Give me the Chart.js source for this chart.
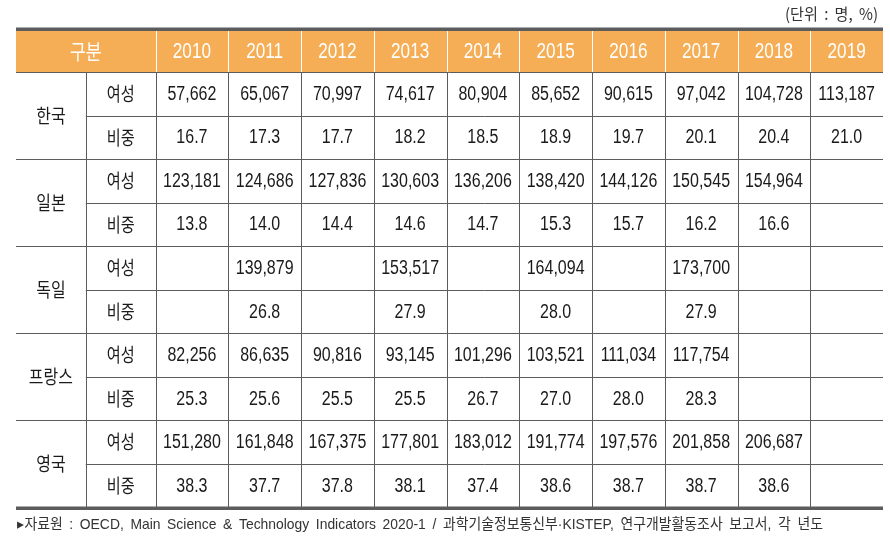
<!DOCTYPE html>
<html><head><meta charset="utf-8">
<script src="https://cdn.jsdelivr.net/npm/chart.js@4/dist/chart.umd.min.js"></script>
<style>html,body{margin:0;padding:0;background:#fff;}canvas{display:block;}</style>
</head><body>
<canvas id="c" width="890" height="546"></canvas>
<script>
const years = [2010, 2011, 2012, 2013, 2014, 2015, 2016, 2017, 2018, 2019];
const countries = ['한국', '일본', '독일', '프랑스', '영국'];
const rowLabels = ['여성', '비중'];
const headerLabel = '구분';
const korWomen = [57662, 65067, 70997, 74617, 80904, 85652, 90615, 97042, 104728, 113187];
const korShare = [16.7, 17.3, 17.7, 18.2, 18.5, 18.9, 19.7, 20.1, 20.4, 21.0];
const jpnWomen = [123181, 124686, 127836, 130603, 136206, 138420, 144126, 150545, 154964, null];
const jpnShare = [13.8, 14.0, 14.4, 14.6, 14.7, 15.3, 15.7, 16.2, 16.6, null];
const deuWomen = [null, 139879, null, 153517, null, 164094, null, 173700, null, null];
const deuShare = [null, 26.8, null, 27.9, null, 28.0, null, 27.9, null, null];
const fraWomen = [82256, 86635, 90816, 93145, 101296, 103521, 111034, 117754, null, null];
const fraShare = [25.3, 25.6, 25.5, 25.5, 26.7, 27.0, 28.0, 28.3, null, null];
const gbrWomen = [151280, 161848, 167375, 177801, 183012, 191774, 197576, 201858, 206687, null];
const gbrShare = [38.3, 37.7, 37.8, 38.1, 37.4, 38.6, 38.7, 38.7, 38.6, null];
const unitText = '(단위 : 명, %)';
const sourceText = '▸자료원 : OECD, Main Science & Technology Indicators 2020-1 / 과학기술정보통신부·KISTEP, 연구개발활동조사 보고서, 각 년도';

const seriesByCountry = [
  [korWomen, korShare], [jpnWomen, jpnShare], [deuWomen, deuShare],
  [fraWomen, fraShare], [gbrWomen, gbrShare]
];

const LABEL_COL = 1.918;   // width of the two label columns in year-column units
const HEADER_ROW = 0.942;  // header row height in body-row units

const datasets = [];
seriesByCountry.forEach((pair, ci) => {
  pair.forEach((vals, ri) => {
    const row = ci * 2 + ri;
    datasets.push({
      label: countries[ci] + ' ' + rowLabels[ri],
      isShare: ri === 1,
      data: vals.map((v, i) => v == null ? null : { x: i + 0.5, y: row + 0.5, v: v })
                .filter(p => p !== null),
      pointRadius: 0, pointHoverRadius: 0, showLine: false
    });
  });
});

function fmt(v, share) {
  return share ? v.toFixed(1) : v.toLocaleString('en-US');
}

function drawScaled(ctx, text, x, y, font, sx, color) {
  ctx.save();
  ctx.font = font;
  ctx.fillStyle = color;
  ctx.textAlign = 'center';
  ctx.textBaseline = 'middle';
  ctx.translate(x, y);
  ctx.scale(sx, 1);
  ctx.fillText(text, 0, 0);
  ctx.restore();
}

const NUM_FONT = "20px 'Liberation Sans', Arial, sans-serif";
const KO_FONT = "19px 'Noto Sans CJK KR', sans-serif";
const HEAD_FONT = "22px 'Liberation Sans', Arial, sans-serif";
const TEXT = '#1a1a1a';
const LINE = '#5c5c5c';
const ORANGE = '#F5AE56';

const tablePlugin = {
  id: 'tablePlugin',
  beforeDatasetsDraw(chart) {
    const { ctx, scales: { x, y } } = chart;
    const left = x.getPixelForValue(-LABEL_COL), right = x.getPixelForValue(10);
    const midCol = x.getPixelForValue(-LABEL_COL / 2);
    const top = y.getPixelForValue(-HEADER_ROW), hb = y.getPixelForValue(0);
    const bottom = y.getPixelForValue(countries.length * 2);
    ctx.save();
    ctx.fillStyle = ORANGE;
    ctx.fillRect(left, top, right - left, hb - top);
    ctx.strokeStyle = '#ffffff';
    ctx.lineWidth = 1;
    for (let i = 0; i < years.length; i++) {
      const px = Math.round(x.getPixelForValue(i)) + 0.5;
      ctx.beginPath(); ctx.moveTo(px, top); ctx.lineTo(px, hb); ctx.stroke();
    }
    ctx.strokeStyle = LINE;
    for (let r = 0; r < countries.length * 2; r++) {
      const py = Math.round(y.getPixelForValue(r)) + 0.5;
      const sx = (r % 2 === 0) ? left : midCol;
      ctx.beginPath(); ctx.moveTo(sx, py); ctx.lineTo(right, py); ctx.stroke();
    }
    const vxs = [midCol];
    for (let i = 0; i < years.length; i++) vxs.push(x.getPixelForValue(i));
    vxs.forEach(v => {
      const px = Math.round(v) + 0.5;
      ctx.beginPath(); ctx.moveTo(px, hb); ctx.lineTo(px, bottom); ctx.stroke();
    });
    ctx.fillStyle = LINE;
    ctx.fillRect(left, top - 3.5, right - left, 3.5);
    ctx.fillRect(left, bottom - 1, right - left, 3.5);
    ctx.restore();
  },
  afterDatasetsDraw(chart) {
    const { ctx, scales: { x, y } } = chart;
    const left = x.getPixelForValue(-LABEL_COL), right = x.getPixelForValue(10);
    const midCol = x.getPixelForValue(-LABEL_COL / 2);
    const hy = y.getPixelForValue(-HEADER_ROW / 2);
    drawScaled(ctx, headerLabel, (left + x.getPixelForValue(0)) / 2, hy, "21px 'Noto Sans CJK KR', sans-serif", 0.82, '#ffffff');
    years.forEach((yr, i) => {
      drawScaled(ctx, String(yr), x.getPixelForValue(i + 0.5), hy + 0.5, HEAD_FONT, 0.78, '#ffffff');
    });
    countries.forEach((c, ci) => {
      drawScaled(ctx, c, (left + midCol) / 2, y.getPixelForValue(ci * 2 + 1), KO_FONT, 0.84, TEXT);
      rowLabels.forEach((rl, ri) => {
        drawScaled(ctx, rl, (midCol + x.getPixelForValue(0)) / 2, y.getPixelForValue(ci * 2 + ri + 0.5), KO_FONT, 0.8, TEXT);
      });
    });
    chart.data.datasets.forEach((ds, di) => {
      const meta = chart.getDatasetMeta(di);
      meta.data.forEach((el, j) => {
        drawScaled(ctx, fmt(ds.data[j].v, ds.isShare), el.x, el.y + 0.5, NUM_FONT, 0.8, TEXT);
      });
    });
    // unit
    ctx.save();
    ctx.font = "16px 'Noto Sans CJK KR', sans-serif";
    ctx.wordSpacing = '3px';
    ctx.fillStyle = '#333';
    ctx.textAlign = 'left';
    ctx.textBaseline = 'middle';
    const uw = ctx.measureText(unitText).width;
    ctx.translate(right - 5 - 93, 14);
    ctx.scale(93 / uw, 1);
    ctx.fillText(unitText, 0, 0);
    ctx.restore();
    // source
    ctx.save();
    ctx.font = "15px 'Liberation Sans', 'Noto Sans CJK KR', sans-serif";
    ctx.wordSpacing = '3px';
    ctx.fillStyle = '#333';
    ctx.textAlign = 'left';
    ctx.textBaseline = 'middle';
    const w = ctx.measureText(sourceText).width;
    ctx.translate(left + 1, 525);
    ctx.scale(806 / w, 1);
    ctx.fillText(sourceText, 0, 0);
    ctx.restore();
  }
};

new Chart(document.getElementById('c'), {
  type: 'scatter',
  data: { datasets },
  options: {
    responsive: false,
    animation: false,
    devicePixelRatio: 1,
    layout: { padding: { left: 16, right: 7, top: 31, bottom: 38.5 } },
    plugins: { legend: { display: false }, tooltip: { enabled: false }, title: { display: false } },
    scales: {
      x: { type: 'linear', min: -LABEL_COL, max: 10, display: false },
      y: { type: 'linear', min: -HEADER_ROW, max: countries.length * 2, reverse: true, display: false }
    }
  },
  plugins: [tablePlugin]
});
</script>
</body></html>
